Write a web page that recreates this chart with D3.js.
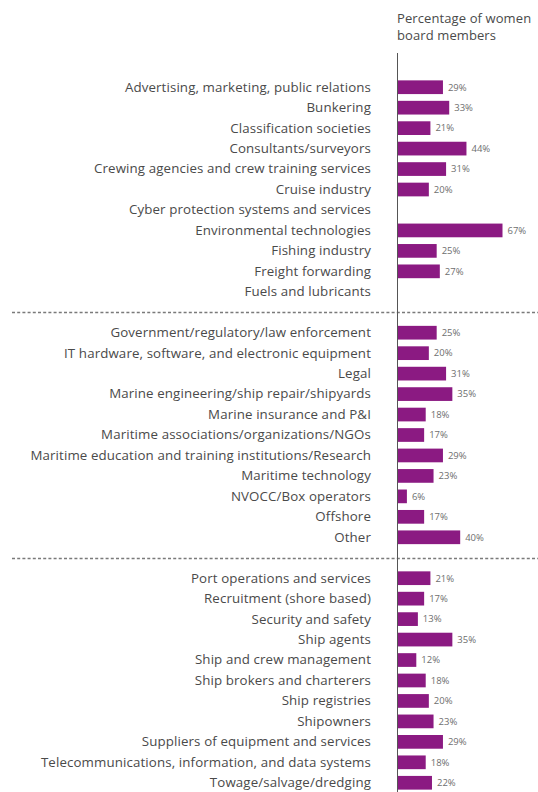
<!DOCTYPE html>
<html>
<head>
<meta charset="utf-8">
<script src="https://cdn.jsdelivr.net/npm/d3@7"></script>
<style>
  body { margin: 0; background: #fff; }
  .cat-label { font-family: "Open Sans", sans-serif; font-size: 13.3px; letter-spacing: 0.12px; fill: #4a4a4a; }
  .val-label { font-family: "Open Sans", sans-serif; font-size: 9.5px; fill: #6e6e6e; }
  .title { font-family: "Open Sans", sans-serif; font-size: 13px; letter-spacing: 0.1px; fill: #4a4a4a; }
</style>
</head>
<body>
<div id="figure"></div>
<script>
'use strict';

const group1 = ['Advertising, marketing, public relations', 'Bunkering', 'Classification societies',
  'Consultants/surveyors', 'Crewing agencies and crew training services', 'Cruise industry',
  'Cyber protection systems and services', 'Environmental technologies', 'Fishing industry',
  'Freight forwarding', 'Fuels and lubricants'];
const values1 = [29, 33, 21, 44, 31, 20, null, 67, 25, 27, null];

const group2 = ['Government/regulatory/law enforcement', 'IT hardware, software, and electronic equipment',
  'Legal', 'Marine engineering/ship repair/shipyards', 'Marine insurance and P&I',
  'Maritime associations/organizations/NGOs', 'Maritime education and training institutions/Research',
  'Maritime technology', 'NVOCC/Box operators', 'Offshore', 'Other'];
const values2 = [25, 20, 31, 35, 18, 17, 29, 23, 6, 17, 40];

const group3 = ['Port operations and services', 'Recruitment (shore based)', 'Security and safety',
  'Ship agents', 'Ship and crew management', 'Ship brokers and charterers', 'Ship registries',
  'Shipowners', 'Suppliers of equipment and services', 'Telecommunications, information, and data systems',
  'Towage/salvage/dredging'];
const values3 = [21, 17, 13, 35, 12, 18, 20, 23, 29, 18, 22];

const titleLines = ['Percentage of women', 'board members'];

function drawFigure() {
  const width = 538;
  const height = 792;

  // one blank slot between groups, where the dashed rule sits
  const rows = [
    ...group1.map((c, i) => ({cat: c, value: values1[i]})),
    {cat: 'gap1', value: null, gap: true},
    ...group2.map((c, i) => ({cat: c, value: values2[i]})),
    {cat: 'gap2', value: null, gap: true},
    ...group3.map((c, i) => ({cat: c, value: values3[i]})),
  ];

  const y = d3.scaleBand()
    .domain(rows.map(d => d.cat))
    .range([77, 793])
    .paddingInner(0.33)
    .paddingOuter(0.165);

  const x = d3.scaleLinear()
    .domain([0, 67])
    .range([397.5, 502.5]);

  const svg = d3.select("div#figure")
    .append("svg")
    .attr("width", width)
    .attr("height", height)
    .attr("viewBox", [0, 0, width, height]);

  svg.append("g")
    .selectAll("text")
    .data(titleLines)
    .join("text")
    .classed("title", true)
    .attr("x", 397)
    .attr("y", (d, i) => 22.5 + i * 17)
    .text(d => d);

  // dashed group separators
  svg.append("g")
    .selectAll("line")
    .data(rows.filter(d => d.gap))
    .join("line")
    .attr("x1", 12)
    .attr("x2", width)
    .attr("y1", d => Math.round(y(d.cat) + y.bandwidth() / 2) + 0.5)
    .attr("y2", d => Math.round(y(d.cat) + y.bandwidth() / 2) + 0.5)
    .attr("stroke", "#7a7a7a")
    .attr("stroke-width", 1.3)
    .attr("stroke-dasharray", "3,2.2");

  const bars = rows.filter(d => !d.gap);

  svg.append("g")
    .selectAll("rect")
    .data(bars.filter(d => d.value != null))
    .join("rect")
    .attr("fill", "#8b1a82")
    .attr("x", x(0))
    .attr("y", d => y(d.cat))
    .attr("width", d => x(d.value) - x(0))
    .attr("height", y.bandwidth());

  svg.append("line")
    .attr("x1", x(0))
    .attr("x2", x(0))
    .attr("y1", 53)
    .attr("y2", height)
    .attr("stroke", "#555")
    .attr("stroke-width", 1);

  svg.append("g")
    .selectAll("text")
    .data(bars)
    .join("text")
    .classed("cat-label", true)
    .attr("x", 371)
    .attr("y", d => y(d.cat) + y.bandwidth() / 2)
    .attr("dy", "0.33em")
    .attr("text-anchor", "end")
    .text(d => d.cat);

  svg.append("g")
    .selectAll("text")
    .data(bars.filter(d => d.value != null))
    .join("text")
    .classed("val-label", true)
    .attr("x", d => x(d.value) + 5)
    .attr("y", d => y(d.cat) + y.bandwidth() / 2)
    .attr("dy", "0.35em")
    .text(d => d.value + "%");
}

drawFigure();
</script>
</body>
</html>
